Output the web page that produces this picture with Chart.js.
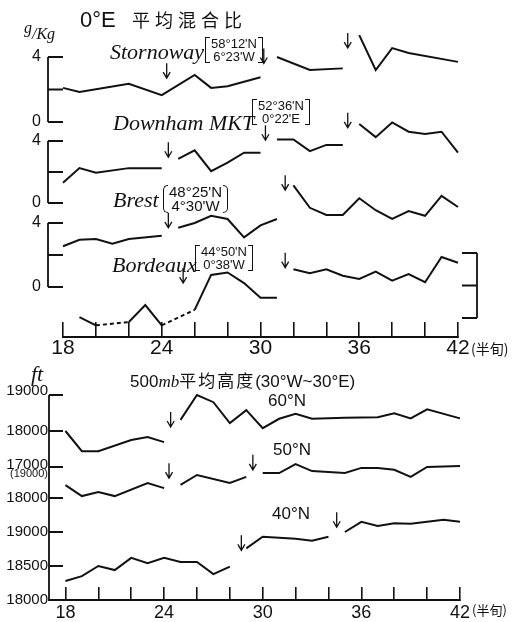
<!DOCTYPE html>
<html>
<head>
<meta charset="utf-8">
<script src="https://cdn.jsdelivr.net/npm/chart.js@4.4.1/dist/chart.umd.min.js"></script>
<style>
  body { margin: 0; background: #fff; }
  #page { position: relative; width: 526px; height: 622px; overflow: hidden; color: #111; }
  canvas { position: absolute; left: 0; }
  .t { position: absolute; white-space: nowrap; line-height: 1; }
  .nar { font-family: "Liberation Sans Narrow", "Liberation Sans", sans-serif; }
  .it { font-family: "Liberation Serif", serif; font-style: italic; }
  .cjk { font-family: "Noto Sans CJK SC", sans-serif; }
  .stn { font-family: "Liberation Serif", serif; font-style: italic; font-size: 22px; }
  .loc { position: absolute; white-space: nowrap; text-align: center; padding: 0 6px;
         font-family: "Liberation Sans Narrow", "Liberation Sans", sans-serif; font-size: 13px; line-height: 13px; }
  .loc::before, .loc::after { content: ""; position: absolute; top: 0; bottom: 0; width: 4px; border: 1.3px solid #111; }
  .loc::before { left: 0; border-right: none; }
  .loc::after { right: 0; border-left: none; }
  .loc.paren::before { border-radius: 7px 0 0 7px; }
  .loc.paren::after { border-radius: 0 7px 7px 0; }
</style>
</head>
<body>
<div id="page">
  <canvas id="mixChart" width="526" height="370" style="top:0"></canvas>
  <canvas id="heightChart" width="526" height="262" style="top:360px"></canvas>

  <!-- upper panel: mixing ratio -->
  <div class="t nar" style="left:80px;top:9px;font-size:22px">0°E</div>
  <div class="t cjk" style="left:132px;top:10px;font-size:18px;letter-spacing:5px">平均混合比</div>
  <div class="t it" style="left:24px;top:26px;font-size:16px"><span style="position:relative;top:-6px">g</span>/Kg</div>

  <div class="t stn" style="left:110px;top:41px">Stornoway</div>
  <div class="loc" style="left:205px;top:37px"><div>58°12'N</div><div>6°23'W</div></div>

  <div class="t stn" style="left:113px;top:112px">Downham MKT</div>
  <div class="loc" style="left:252px;top:99px"><div>52°36'N</div><div>0°22'E</div></div>

  <div class="t stn" style="left:113px;top:189px">Brest</div>
  <div class="loc paren" style="left:163px;top:185px;font-size:15px;line-height:14px"><div>48°25'N</div><div>4°30'W</div></div>

  <div class="t stn" style="left:112px;top:254px">Bordeaux</div>
  <div class="loc" style="left:195px;top:245px"><div>44°50'N</div><div>0°38'W</div></div>

  <div class="t cjk" style="left:471px;top:341px;font-size:14px">(半旬)</div>

  <!-- lower panel: 500 mb height -->
  <div class="t it" style="left:31px;top:363px;font-size:22px">ft</div>
  <div class="t" style="left:130px;top:371px;font-size:17px">
    <span class="nar">500</span><span class="it">mb</span><span class="cjk" style="letter-spacing:2px">平均高度</span><span class="nar">(30°W~30°E)</span>
  </div>
  <div class="t nar" style="left:268px;top:392px;font-size:17px">60°N</div>
  <div class="t nar" style="left:273px;top:441px;font-size:17px">50°N</div>
  <div class="t nar" style="left:272px;top:505px;font-size:17px">40°N</div>
  <div class="t cjk" style="left:472px;top:603px;font-size:13px">(半旬)</div>
</div>

<script>
// ---- pentad axis ----
const pentadSteps = [18, 20, 22, 24, 26, 28, 30, 32, 34, 36, 38, 40, 42];
const pentadLabels = [18, 24, 30, 36, 42];

// ---- mixing ratio (g/kg), one list per unbroken piece of line ----
const stornowayX = [[18, 19, 22, 24, 26, 27, 28, 30], [31, 33, 35], [36, 37, 38, 39, 42]];
const stornowayY = [[2.1, 1.85, 2.35, 1.65, 2.9, 2.1, 2.2, 2.75], [4.0, 3.2, 3.3], [5.35, 3.2, 4.55, 4.25, 3.7]];

const downhamX = [[18, 19, 20, 22, 24], [25, 26, 27, 28, 29, 30], [31, 32, 33, 34, 35], [36, 37, 38, 39, 40, 41, 42]];
const downhamY = [[1.3, 2.25, 1.95, 2.25, 2.25], [2.85, 3.4, 2.05, 2.6, 3.25, 3.25], [4.1, 4.1, 3.35, 3.75, 3.75], [5.1, 4.25, 5.2, 4.6, 4.45, 4.6, 3.25]];

const brestX = [[18, 19, 20, 21, 22, 24], [25, 26, 27, 28, 29, 30, 31], [32, 33, 34, 35, 36, 37, 38, 39, 40, 41, 42]];
const brestY = [[2.55, 2.95, 3.0, 2.7, 3.0, 3.2], [3.7, 4.0, 4.45, 4.25, 3.1, 3.85, 4.25], [6.35, 4.95, 4.5, 4.5, 5.55, 4.8, 4.25, 4.75, 4.45, 5.7, 5.0]];

const bordeauxX = [[19, 20], [20, 22], [22, 23, 24], [24, 26], [26, 27, 28, 29, 30, 31], [32, 33, 34, 35, 36, 37, 38, 39, 40, 41, 42]];
const bordeauxY = [[0.05, -0.45], [-0.45, -0.25], [-0.25, 0.8, -0.45], [-0.45, 0.5], [0.5, 2.65, 2.8, 2.15, 1.25, 1.25], [3.0, 2.75, 3.0, 2.6, 2.4, 2.85, 2.3, 2.7, 2.2, 3.75, 3.4]];
const bordeauxDashed = [false, true, false, true, false, false];

// onset arrows: [axis, pentad, value at arrow tip]
const mixArrows = [
  ['yS', 24.3, 2.7], ['yS', 30.2, 3.6], ['yS', 35.3, 4.55],
  ['yD', 24.4, 2.95], ['yD', 30.3, 4.05], ['yD', 35.3, 4.85],
  ['yB', 24.4, 3.7], ['yB', 31.5, 6.05],
  ['yX', 25.3, 2.15], ['yX', 31.5, 3.1]
];

// ---- 500 mb mean height (ft) ----
const n60X = [[18, 19, 20, 22, 23, 24], [25, 26, 27, 28, 29, 30, 31, 32, 33, 35, 37, 38, 39, 40, 42]];
const n60Y = [[18000, 17440, 17440, 17750, 17830, 17690], [18310, 19000, 18800, 18220, 18580, 18080, 18340, 18480, 18340, 18370, 18380, 18490, 18350, 18600, 18350]];

const n50X = [[18, 19, 20, 21, 23, 24], [25, 26, 28, 29], [30, 31, 32, 33, 35, 36, 37, 38, 39, 40, 42]];
const n50Y = [[18400, 18060, 18190, 18060, 18470, 18310], [18410, 18720, 18470, 18660], [18780, 18780, 19060, 18840, 18780, 18940, 18940, 18880, 18660, 18970, 19000]];

const n40X = [[18, 19, 20, 21, 22, 23, 24, 25, 26, 27, 28], [29, 30, 32, 33, 34], [35, 36, 37, 38, 39, 40, 41, 42]];
const n40Y = [[18280, 18350, 18500, 18440, 18620, 18540, 18620, 18560, 18560, 18380, 18490], [18760, 18930, 18900, 18870, 18930], [19000, 19150, 19090, 19130, 19120, 19150, 19180, 19150]];

const heightArrows = [['y60', 24.4, 18110], ['y50', 24.3, 18620], ['y50', 29.4, 18880], ['y40', 28.7, 18730], ['y40', 34.5, 19070]];

// left-hand height ticks: [axis, value, label]
const heightTicks = [
  ['y60', 19000, '19000'], ['y60', 18000, '18000'], ['y60', 17000, '17000'],
  ['y50', 18000, '18000'],
  ['y40', 19000, '19000'], ['y40', 18500, '18500'], ['y40', 18000, '18000']
];

const INK = '#111';
const NARROW = '"Liberation Sans Narrow", "Liberation Sans", sans-serif';

// min/max of a hidden axis so that two values land on the given pixel rows
function span(v0, px0, v1, px1, top, bottom) {
  const k = (v1 - v0) / (px0 - px1);
  return { min: v0 - (bottom - px0) * k, max: v0 + (px0 - top) * k };
}

function segments(xs, ys, axis, dashed) {
  return xs.map((seg, i) => ({
    data: seg.map((p, j) => ({ x: p, y: ys[i][j] })),
    yAxisID: axis,
    borderColor: INK,
    borderWidth: 2,
    borderDash: dashed && dashed[i] ? [4, 3] : [],
    pointRadius: 0,
    tension: 0,
    clip: false
  }));
}

function drawArrow(ctx, x, y) {
  ctx.beginPath();
  ctx.moveTo(x, y - 15);
  ctx.lineTo(x, y);
  ctx.moveTo(x - 3.5, y - 6);
  ctx.lineTo(x, y);
  ctx.lineTo(x + 3.5, y - 6);
  ctx.stroke();
}

function pentadAxis(min, tickLen, pad, size, height) {
  return {
    type: 'linear', min: min, max: 42,
    border: { color: INK, width: 2 },
    grid: { drawOnChartArea: false, color: INK, lineWidth: 1.6, tickLength: tickLen },
    afterBuildTicks: s => { s.ticks = pentadSteps.map(v => ({ value: v })); },
    ticks: {
      autoSkip: false, maxRotation: 0, padding: pad, color: INK,
      font: { family: NARROW, size: size },
      callback: v => pentadLabels.includes(v) ? String(v) : ''
    },
    afterFit: s => { s.height = height; }
  };
}

// brackets for the station scales (0, 2, 4 g/kg)
const mixFrame = {
  id: 'mixFrame',
  afterDraw(chart) {
    const { ctx, chartArea, scales } = chart;
    ctx.save();
    ctx.strokeStyle = INK;
    ctx.fillStyle = INK;
    ctx.lineWidth = 1.8;
    ctx.font = '16px ' + NARROW;
    ctx.textAlign = 'right';
    ctx.textBaseline = 'middle';
    ['yS', 'yD', 'yB'].forEach(id => {
      const s = scales[id];
      const ys = [4, 2, 0].map(v => s.getPixelForValue(v));
      const xl = chartArea.left - 15;
      ctx.beginPath();
      ctx.moveTo(xl, ys[0]);
      ctx.lineTo(xl, ys[2]);
      ys.forEach(y => { ctx.moveTo(xl, y); ctx.lineTo(chartArea.left, y); });
      ctx.stroke();
      ctx.fillText('4', xl - 7, ys[0]);
      ctx.fillText('0', xl - 7, ys[2]);
    });
    // Bordeaux scale sits on the right
    const b = scales.yX;
    const yb = [4, 2, 0].map(v => b.getPixelForValue(v));
    const xr = chartArea.right + 19;
    ctx.beginPath();
    ctx.moveTo(xr, yb[0]);
    ctx.lineTo(xr, yb[2]);
    yb.forEach(y => { ctx.moveTo(xr, y); ctx.lineTo(chartArea.right + 4, y); });
    ctx.stroke();

    ctx.lineWidth = 1.3;
    mixArrows.forEach(([id, p, v]) => drawArrow(ctx, scales.x.getPixelForValue(p), scales[id].getPixelForValue(v)));
    ctx.restore();
  }
};

const heightFrame = {
  id: 'heightFrame',
  afterDraw(chart) {
    const { ctx, chartArea, scales } = chart;
    const xl = chartArea.left;
    ctx.save();
    ctx.strokeStyle = INK;
    ctx.fillStyle = INK;
    ctx.lineWidth = 1.8;
    ctx.beginPath();
    ctx.moveTo(xl, scales.y60.getPixelForValue(19000));
    ctx.lineTo(xl, chartArea.bottom);
    heightTicks.forEach(([id, v]) => {
      const y = scales[id].getPixelForValue(v);
      ctx.moveTo(xl, y);
      ctx.lineTo(xl + 14, y);
    });
    ctx.stroke();

    ctx.font = '15px ' + NARROW;
    ctx.textAlign = 'right';
    ctx.textBaseline = 'middle';
    heightTicks.forEach(([id, v, label], i) => {
      const y = scales[id].getPixelForValue(v);
      ctx.fillText(label, xl - 1, y - (i === 0 ? 4 : i === 2 ? 2 : 0));
    });
    ctx.font = '11px ' + NARROW;
    ctx.fillText('(19000)', xl - 1, scales.y50.getPixelForValue(19000) + 8);

    ctx.lineWidth = 1.3;
    heightArrows.forEach(([id, p, v]) => drawArrow(ctx, scales.x.getPixelForValue(p), scales[id].getPixelForValue(v)));
    ctx.restore();
  }
};

const common = {
  responsive: false,
  animation: false,
  events: [],
  plugins: { legend: { display: false }, tooltip: { enabled: false } }
};

// upper panel, chart area rows 20..337
const MT = 20, MB = 337;
new Chart(document.getElementById('mixChart'), {
  type: 'line',
  data: {
    datasets: [
      ...segments(stornowayX, stornowayY, 'yS'),
      ...segments(downhamX, downhamY, 'yD'),
      ...segments(brestX, brestY, 'yB'),
      ...segments(bordeauxX, bordeauxY, 'yX', bordeauxDashed)
    ]
  },
  options: {
    ...common,
    layout: { padding: { left: 63, right: 68, top: MT, bottom: 370 - MB - 30 } },
    scales: {
      x: pentadAxis(18, -15, 14, 21, 30),
      yS: { display: false, ...span(0, 122, 4, 57, MT, MB) },
      yD: { display: false, ...span(0, 203, 4, 141, MT, MB) },
      yB: { display: false, ...span(0, 287, 4, 223, MT, MB) },
      yX: { display: false, ...span(0, 318, 4, 253, MT, MB) }
    }
  },
  plugins: [mixFrame]
});

// lower panel, canvas starts at page row 360; chart area rows 35..240
const HT = 35, HB = 240;
new Chart(document.getElementById('heightChart'), {
  type: 'line',
  data: {
    datasets: [
      ...segments(n60X, n60Y, 'y60'),
      ...segments(n50X, n50Y, 'y50'),
      ...segments(n40X, n40Y, 'y40')
    ]
  },
  options: {
    ...common,
    layout: { padding: { left: 49, right: 66, top: HT, bottom: 262 - HB - 20 } },
    scales: {
      x: pentadAxis(17, -13, 15, 18, 20),
      y60: { display: false, ...span(18000, 71, 19000, 35, HT, HB) },
      y50: { display: false, ...span(18000, 138, 19000, 106, HT, HB) },
      y40: { display: false, ...span(18000, 240, 19000, 172, HT, HB) }
    }
  },
  plugins: [heightFrame]
});
</script>
</body>
</html>
